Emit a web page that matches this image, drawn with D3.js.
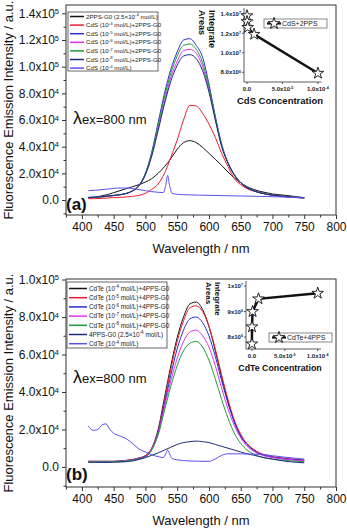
<!DOCTYPE html>
<html>
<head>
<meta charset="utf-8">
<script src="https://cdn.jsdelivr.net/npm/d3@7"></script>
<style>
body { margin: 0; background: #fff; }
svg { display: block; font-family: "Liberation Sans", Arial, sans-serif; }
</style>
</head>
<body>
<svg id="chart" width="347" height="528"></svg>
<script>
// wavelength grid (nm) shared by most spectra, values in units of 1e3 a.u.
var wlMain = [410,420,430,440,450,460,470,480,490,500,510,520,530,540,550,560,570,580,590,600,610,620,630,640,650,660,670,680,690,700,710,720,730,740,750];

// panel (a)
var topBlack   = [1.5,2,3,4,5.5,7,8.5,10,11.5,13.5,16,20,25,31,38,43,44.5,43,39.5,35,30.5,26,21,16.5,13,10,8,6.5,5.5,4.5,4,3.5,3,2.3,1.8];
var topRed     = [1,1,1.2,1.5,1.8,2,2.3,2.8,3.5,5,8,12,20,32,45,60,71,70.5,65,57,47,35,25,16,11.5,8.5,6.8,5.5,4.5,3.8,3.2,2.7,2.2,1.8,1.5];
var topBlue    = [2,2.2,2.5,3,3.5,4,5,7,11,20,36,58,80,98,111,120,121,116,107,87,63,42,28,19,13,9.5,7.3,5.7,4.6,3.8,3.2,2.7,2.3,2,1.8];
var topMagenta = [1.7,1.9,2.2,2.7,3.2,3.8,4.8,6.8,10.5,19,34,54,74,92,104,112,113,110,100,83,61,41,28,19,13,9.2,7,5.5,4.4,3.6,3,2.6,2.2,1.9,1.7];
var topGreen   = [1.8,2,2.3,2.8,3.3,4,5,7,11,20,35,56,77,95,108,116,117,113,103,85,62,41,28,19,13,9.3,7,5.5,4.4,3.6,3,2.6,2.2,1.9,1.7];
var topNavy    = [1.9,2.1,2.4,2.9,3.4,4,4.9,6.9,10.8,19,33,52,72,89,101,108,109,106,97,81,60,40,27.5,18.5,12.7,9,6.9,5.4,4.3,3.5,3,2.5,2.1,1.8,1.6];
var topCdsWl   = [410,420,430,440,450,460,470,480,490,500,510,520,528,532,535,538,542,550,560,580,600,620,640,660,680,700,720,740,750];
var topCds     = [7,7.3,7.7,8.2,8.7,9,9,8.6,7.8,7,6.3,5.8,5.6,11,18.5,11,5,4.3,4,3.7,3.5,3.3,3.1,2.9,2.7,2.5,2.2,1.8,1.5];

// panel (b)
var botBlack   = [3,3,3,3,3,3.2,3.5,4,4.8,6,10,20,37,54,69,80,87,88,84,75,62,48,35,24,16.5,12,9,7,6,5.3,4.8,4.4,4,3.7,3.5];
var botRed     = [3,3,3,3,3,3.2,3.5,4,4.8,6,10,19,35,52,67,78,85,86,83,75,63,49,36,25,17.5,12.5,9.5,7.5,6.3,5.5,5,4.6,4.3,4,3.8];
var botBlue    = [2.8,2.8,2.8,2.8,2.9,3,3.3,3.8,4.6,5.8,9.5,18.5,33.5,49,63,73,79,80,77,70,59,46,34,24,16.5,12,9,7,6,5.2,4.7,4.3,4,3.7,3.5];
var botMagenta = [2.8,2.8,2.8,2.8,2.9,3,3.3,3.8,4.5,5.5,9.5,18,32,46,58,67,72,73,70,64,54,42,31,22,15.5,11,8.5,6.7,5.7,5,4.5,4.1,3.8,3.5,3.3];
var botGreen   = [2.7,2.7,2.7,2.7,2.8,2.9,3.2,3.6,4.3,5.2,9,17,30,43,54,62,66,67,64,57,47,36,26,18,12.5,9,7,5.5,4.7,4.2,3.8,3.5,3.2,3,2.8];
var botNavy    = [2.5,2.5,2.4,2.4,2.5,2.6,2.8,3.2,4,5,6.2,7.5,9,10.5,12,13,13.5,13.8,13.5,13,12,11,10,9,8,7,6.3,5.5,4.8,4.2,3.6,3.1,2.7,2.4,2.2];
var botCdteWl  = [410,418,425,432,438,444,450,460,470,480,490,500,510,520,528,532,535,538,542,550,570,600,610,620,630,650,670,690,700,720,740,750];
var botCdte    = [22,19.5,20,22.5,23,20,18,16.5,15,12.5,9.5,8,6.5,5.5,5,7,9,7,4.5,3.8,3.2,3,4.3,6.2,7,7,6.8,6.5,6,5.2,4.5,4.2];

// legend labels (^..^ marks a superscript)
var topLabels = ["2PPS-G0 (2.5\u00d710^-4^ mol/L)", "CdS (10^-4^ mol/L)+2PPS-G0", "CdS (10^-5^ mol/L)+2PPS-G0",
  "CdS (10^-6^ mol/L)+2PPS-G0", "CdS (10^-7^ mol/L)+2PPS-G0", "CdS (10^-8^ mol/L)+2PPS-G0", "CdS (10^-4^ mol/L)"];
var botLabels = ["CdTe (10^-4^ mol/L)+4PPS-G0", "CdTe (10^-5^ mol/L)+4PPS-G0", "CdTe (10^-6^ mol/L)+4PPS-G0",
  "CdTe (10^-7^ mol/L)+4PPS-G0", "CdTe (10^-8^ mol/L)+4PPS-G0", "4PPS-G0 (2.5\u00d710^-4^ mol/L)", "CdTe (10^-4^ mol/L)"];

// inset data: integrated areas vs concentration
var conc     = [1e-8, 1e-7, 1e-6, 1e-5, 1e-4];
var cdsArea  = [1.38e7, 1.32e7, 1.26e7, 1.19e7, 7.9e6];
var cdteArea = [7.73e6, 8.4e6, 9.0e6, 9.5e6, 9.72e6];

var xTicks = [400,450,500,550,600,650,700,750,800];
var colors = ["#151515", "#ee1c2a", "#2b2bd0", "#dd33ee", "#1f9a3a", "#1c2a80", "#5a4ff0"];

var svg = d3.select("#chart");
var FONT = '"Liberation Sans", Arial, sans-serif';

function sciText(text, v, digits) {
  text.text(null);
  if (v === 0) { text.text((0).toFixed(digits)); return; }
  var e = Math.floor(Math.log10(Math.abs(v)) + 1e-9);
  var m = v / Math.pow(10, e);
  text.append("tspan").text(m.toFixed(digits) + "x10");
  text.append("tspan").attr("dy", "-0.5em").attr("font-size", "62%").text(e);
}

function richText(text, s, fs) {
  s.split("^").forEach(function(t, i) {
    if (!t) return;
    var sp = text.append("tspan").text(t);
    if (i % 2) sp.attr("dy", -fs * 0.38).attr("font-size", fs * 0.7);
    else if (i > 0) sp.attr("dy", fs * 0.38);
  });
}

function drawPanel(p) {
  var x = d3.scaleLinear().domain([375, 800]).range([p.left, p.right]);
  var y = d3.scaleLinear().domain(p.yDomain).range([p.bottom, p.top]);
  var g = svg.append("g");

  g.append("clipPath").attr("id", p.id + "clip").append("rect")
    .attr("x", p.left).attr("y", p.top).attr("width", p.right - p.left).attr("height", p.bottom - p.top);

  // x axis
  var gx = g.append("g").attr("transform", "translate(0," + p.bottom + ")")
    .call(d3.axisBottom(x).tickValues(xTicks).tickSize(4).tickSizeOuter(0).tickPadding(3));
  gx.attr("font-family", FONT).attr("font-size", 12);
  gx.select(".domain").remove();
  gx.selectAll("line").attr("stroke", "#333");
  gx.selectAll("text").attr("fill", "#111");
  var gxm = g.append("g").attr("transform", "translate(0," + p.bottom + ")")
    .call(d3.axisBottom(x).tickValues([375,425,475,525,575,625,675,725,775]).tickSize(2.5).tickFormat(""));
  gxm.select(".domain").remove();
  gxm.selectAll("line").attr("stroke", "#333");

  // y axis
  var gy = g.append("g").attr("transform", "translate(" + p.left + ",0)")
    .call(d3.axisLeft(y).tickValues(p.yTicks).tickSize(4).tickSizeOuter(0).tickPadding(3));
  gy.attr("font-family", FONT).attr("font-size", 12);
  gy.select(".domain").remove();
  gy.selectAll("line").attr("stroke", "#333");
  gy.selectAll(".tick text").attr("fill", "#111").each(function(d) { sciText(d3.select(this), d, 1); });
  var gym = g.append("g").attr("transform", "translate(" + p.left + ",0)")
    .call(d3.axisLeft(y).tickValues(p.yMinor).tickSize(2.5).tickFormat(""));
  gym.select(".domain").remove();
  gym.selectAll("line").attr("stroke", "#333");

  // spectra
  var line = d3.line()
    .x(function(d) { return x(d[0]); })
    .y(function(d) { return y(d[1] * 1000); })
    .curve(d3.curveMonotoneX);
  var curves = g.append("g").attr("clip-path", "url(#" + p.id + "clip)");
  p.series.forEach(function(s, i) {
    curves.append("path")
      .datum(s.wl.map(function(w, k) { return [w, s.v[k]]; }))
      .attr("d", line)
      .attr("fill", "none")
      .attr("stroke", colors[s.color])
      .attr("stroke-width", 1);
  });

  // frame
  g.append("rect").attr("x", p.left).attr("y", p.top)
    .attr("width", p.right - p.left).attr("height", p.bottom - p.top)
    .attr("fill", "none").attr("stroke", "#333").attr("stroke-width", 1);

  // axis titles
  g.append("text").attr("x", (p.left + p.right) / 2).attr("y", p.bottom + 38)
    .attr("text-anchor", "middle").attr("font-size", 13).attr("fill", "#111")
    .text("Wavelength / nm");
  g.append("text").attr("transform", "translate(13," + ((p.top + p.bottom) / 2) + ") rotate(-90)")
    .attr("text-anchor", "middle").attr("font-size", 13).attr("fill", "#111")
    .text("Fluorescence Emission Intensity / a.u.");

  // excitation note and panel tag
  var lam = g.append("text").attr("x", p.left + 7).attr("y", p.lamY).attr("fill", "#111");
  lam.append("tspan").attr("font-size", 18).text("\u03bb");
  lam.append("tspan").attr("font-size", 13).text("ex=800 nm");
  g.append("text").attr("x", p.left).attr("y", p.tagY).attr("font-size", 17)
    .attr("font-weight", "bold").attr("fill", "#111").text(p.tag);

  // legend
  var lg = g.append("g");
  lg.append("rect").attr("x", p.leg.x).attr("y", p.leg.y).attr("width", p.leg.w).attr("height", p.leg.h)
    .attr("fill", "#fff").attr("stroke", "#444").attr("stroke-width", 0.8);
  p.labels.forEach(function(lab, i) {
    var yy = p.leg.y + p.leg.first + i * p.leg.step;
    lg.append("line").attr("x1", p.leg.x + 2).attr("x2", p.leg.x + p.leg.line)
      .attr("y1", yy).attr("y2", yy).attr("stroke", colors[i]).attr("stroke-width", 1.5);
    var t = lg.append("text").attr("x", p.leg.x + p.leg.line + 2).attr("y", yy + p.leg.fs * 0.35)
      .attr("font-size", p.leg.fs).attr("fill", "#222");
    richText(t, lab, p.leg.fs);
  });
}

function drawInset(p) {
  var x = d3.scaleLinear().domain(p.xDomain).range(p.xRange);
  var y = d3.scaleLinear().domain(p.yDomain).range(p.yRange);
  var g = svg.append("g");

  g.append("line").attr("x1", p.xRange[0]).attr("x2", p.xRange[0]).attr("y1", p.yRange[0]).attr("y2", p.yRange[1])
    .attr("stroke", "#333").attr("stroke-width", 0.8);
  g.append("line").attr("x1", p.xRange[0]).attr("x2", p.xRange[1]).attr("y1", p.yRange[0]).attr("y2", p.yRange[0])
    .attr("stroke", "#333").attr("stroke-width", 0.8);

  p.yTicks.forEach(function(v) {
    g.append("line").attr("x1", p.xRange[0] - 2).attr("x2", p.xRange[0]).attr("y1", y(v)).attr("y2", y(v))
      .attr("stroke", "#333").attr("stroke-width", 0.8);
    var t = g.append("text").attr("x", p.xRange[0] - 3).attr("y", y(v) + 2.2)
      .attr("text-anchor", "end").attr("font-size", 6).attr("font-weight", "bold").attr("fill", "#222");
    sciText(t, v, p.yDigits);
  });
  [0, 5e-5, 1e-4].forEach(function(v) {
    g.append("line").attr("x1", x(v)).attr("x2", x(v)).attr("y1", p.yRange[0]).attr("y2", p.yRange[0] + 2)
      .attr("stroke", "#333").attr("stroke-width", 0.8);
    var t = g.append("text").attr("x", x(v)).attr("y", p.yRange[0] + 9)
      .attr("text-anchor", "middle").attr("font-size", 6).attr("font-weight", "bold").attr("fill", "#222");
    sciText(t, v, 1);
  });

  var pts = conc.map(function(c, i) { return [c, p.area[i]]; });
  g.append("path").datum(pts)
    .attr("d", d3.line().x(function(d) { return x(d[0]); }).y(function(d) { return y(d[1]); }))
    .attr("fill", "none").attr("stroke", "#111").attr("stroke-width", 2.5);
  var star = d3.symbol(d3.symbolStar).size(42);
  g.selectAll(".star").data(pts).enter().append("path")
    .attr("transform", function(d) { return "translate(" + x(d[0]) + "," + y(d[1]) + ")"; })
    .attr("d", star).attr("fill", "#fff").attr("stroke", "#111").attr("stroke-width", 0.9);

  // titles
  g.append("text").attr("x", p.titleX).attr("y", p.titleY).attr("text-anchor", "middle")
    .attr("font-size", p.titleFs).attr("font-weight", "bold").attr("fill", "#111").text(p.title);
  var yl = g.append("text").attr("transform", "translate(" + p.ylabX + "," + p.ylabY + ") rotate(90)")
    .attr("font-size", p.ylabFs).attr("font-weight", "bold").attr("fill", "#111");
  yl.append("tspan").attr("x", 0).attr("y", 0).text("Integrate");
  yl.append("tspan").attr("x", 0).attr("y", p.ylabFs * 1.15).text("Areas");

  // legend
  var lx = p.leg[0], ly = p.leg[1];
  g.append("rect").attr("x", lx).attr("y", ly).attr("width", 63).attr("height", 9)
    .attr("fill", "#fff").attr("stroke", "#555").attr("stroke-width", 0.7);
  g.append("line").attr("x1", lx + 3).attr("x2", lx + 17).attr("y1", ly + 4.5).attr("y2", ly + 4.5)
    .attr("stroke", "#111").attr("stroke-width", 2.2);
  g.append("path").attr("transform", "translate(" + (lx + 10) + "," + (ly + 4.5) + ")")
    .attr("d", star).attr("fill", "#fff").attr("stroke", "#111").attr("stroke-width", 0.9);
  g.append("text").attr("x", lx + 18).attr("y", ly + 7).attr("font-size", 7).attr("fill", "#222").text(p.legText);
}

drawPanel({
  id: "a", left: 66, right: 336, top: 5, bottom: 215,
  yDomain: [-11250, 146250],
  yTicks: [0, 20000, 40000, 60000, 80000, 100000, 120000, 140000],
  yMinor: [-10000, 10000, 30000, 50000, 70000, 90000, 110000, 130000],
  series: [
    { wl: wlMain, v: topBlack, color: 0 }, { wl: wlMain, v: topRed, color: 1 },
    { wl: wlMain, v: topBlue, color: 2 }, { wl: wlMain, v: topMagenta, color: 3 },
    { wl: wlMain, v: topGreen, color: 4 }, { wl: wlMain, v: topNavy, color: 5 },
    { wl: topCdsWl, v: topCds, color: 6 }
  ],
  labels: topLabels,
  leg: { x: 68, y: 12, w: 90, h: 59, first: 4.5, step: 8.6, line: 16, fs: 6.2 },
  lamY: 124, tag: "(a)", tagY: 210
});

drawPanel({
  id: "b", left: 66, right: 336, top: 279, bottom: 487,
  yDomain: [-10700, 100300],
  yTicks: [0, 20000, 40000, 60000, 80000, 100000],
  yMinor: [-10000, 10000, 30000, 50000, 70000, 90000],
  series: [
    { wl: wlMain, v: botBlack, color: 0 }, { wl: wlMain, v: botRed, color: 1 },
    { wl: wlMain, v: botBlue, color: 2 }, { wl: wlMain, v: botMagenta, color: 3 },
    { wl: wlMain, v: botGreen, color: 4 }, { wl: wlMain, v: botNavy, color: 5 },
    { wl: botCdteWl, v: botCdte, color: 6 }
  ],
  labels: botLabels,
  leg: { x: 67, y: 282, w: 100, h: 66, first: 6.5, step: 9.2, line: 20, fs: 6.4 },
  lamY: 383, tag: "(b)", tagY: 480
});

drawInset({
  xDomain: [-4.2e-6, 1.05e-4], xRange: [244, 321.5],
  yDomain: [7.0e6, 1.46e7], yRange: [82, 8],
  yTicks: [8e6, 1e7, 1.2e7, 1.4e7], yDigits: 1,
  area: cdsArea,
  title: "CdS Concentration", titleX: 280, titleY: 104, titleFs: 9.5,
  ylabX: 209, ylabY: 10, ylabFs: 9,
  leg: [264, 19], legText: "CdS+2PPS"
});

drawInset({
  xDomain: [-9e-6, 1.05e-4], xRange: [246, 321],
  yDomain: [7.53e6, 1.02e7], yRange: [349, 281],
  yTicks: [8e6, 9e6, 1e7], yDigits: 0,
  area: cdteArea,
  title: "CdTe Concentration", titleX: 280, titleY: 371, titleFs: 8.8,
  ylabX: 215, ylabY: 282, ylabFs: 8,
  leg: [269, 333], legText: "CdTe+4PPS"
});
</script>
</body>
</html>
